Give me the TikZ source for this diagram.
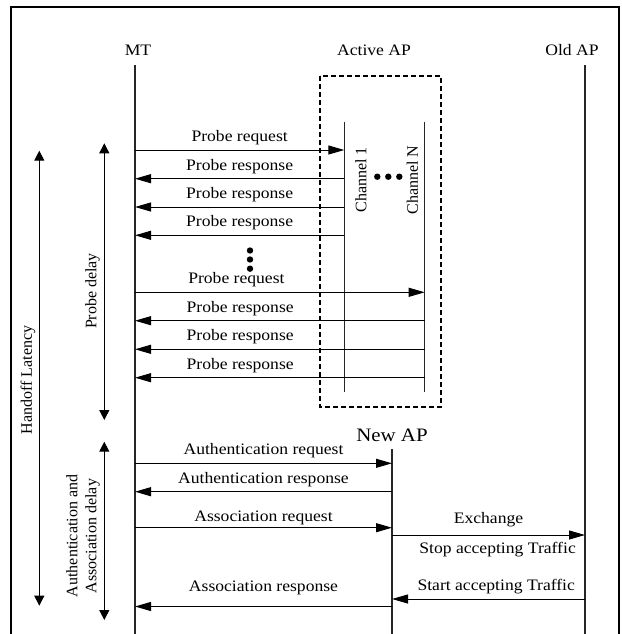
\documentclass[tikz,border=0pt]{standalone}
\usepackage{fontspec}
\setmainfont[FakeStretch=1.1]{Liberation Serif}
\newfontfamily\rotFont{Liberation Serif}
\usetikzlibrary{arrows.meta,positioning}
\tikzset{
  lifeline/.style={
    line width=1.1pt,
    draw=black!85
  },
  message/.style={
    -{Triangle[length=16pt,width=9pt]},
    line width=1pt
  },
  msgLabel/.style={
    font=\fontsize{16}{18}\selectfont,
    inner sep=2pt
  },
  header/.style={
    font=\fontsize{16}{18}\selectfont,
    anchor=base,
    inner sep=0pt
  },
  delayArrow/.style={
    {Triangle[length=10pt,width=10pt]}-{Triangle[length=10pt,width=10pt]},
    line width=1pt
  },
  delayLabel/.style={
    font=\rotFont\fontsize{16}{19}\selectfont,
    rotate=90,
    align=center,
    inner sep=0pt
  },
  channelBox/.style={
    draw,
    line width=1.6pt,
    dash pattern=on 5pt off 3pt
  },
  frameLine/.style={
    line width=2.4pt
  }
}

\begin{document}
\begin{tikzpicture}[x=1pt,y=-1pt]
  \useasboundingbox (0,0) rectangle (621,634);
  \draw[frameLine] (11,660) -- (11,7) -- (619,7) -- (619,660);

  % entities
  \node[header] (mt) at (138,56) {MT};
  \node[header] (activeAP) at (374,56) {Active AP};
  \node[header] (oldAP) at (572,56) {Old AP};
  \node[header,font=\fontsize{19}{21}\selectfont] (newAP) at (392,441.5) {New AP};

  \coordinate (mtTop) at (135,65.5);
  \coordinate (mtBot) at (135,640);
  \coordinate (oldTop) at (585,65.5);
  \coordinate (oldBot) at (585,640);
  \coordinate (newTop) at (392,449.3);
  \coordinate (newBot) at (392,640);
  \coordinate (chOneTop) at (344.3,121.7);
  \coordinate (chOneBot) at (344.3,392.3);
  \coordinate (chNTop) at (424.7,121.7);
  \coordinate (chNBot) at (424.7,392.3);
  \draw[lifeline] (mtTop) -- (mtBot);
  \draw[lifeline] (oldTop) -- (oldBot);
  \draw[lifeline] (newTop) -- (newBot);
  \draw[lifeline] (chOneTop) -- (chOneBot);
  \draw[lifeline] (chNTop) -- (chNBot);

  % active AP channels
  \draw[channelBox] (320,76) rectangle (441,407);
  \node[delayLabel] (chOneLbl) at (361,180) {Channel 1};
  \node[delayLabel] (chNLbl) at (412.5,180) {Channel N};
  \fill (377.3,176.7) circle (3.2pt) (388.3,176.7) circle (3.2pt) (399.3,176.7) circle (3.2pt);

  % probe phase
  \coordinate (mtPrqA) at (135,150);
  \coordinate (mtPrsA) at (135,178.7);
  \coordinate (mtPrsB) at (135,207);
  \coordinate (mtPrsC) at (135,235.3);
  \coordinate (mtPrqN) at (135,292.3);
  \coordinate (mtPrsD) at (135,320.7);
  \coordinate (mtPrsE) at (135,349.3);
  \coordinate (mtPrsF) at (135,377.7);
  \draw[message] (mtPrqA) -- (mtPrqA -| chOneTop) node[msgLabel,midway,above=2.5pt] {Probe request};
  \draw[message] (mtPrsA -| chOneTop) -- (mtPrsA) node[msgLabel,midway,above=2.5pt] {Probe response};
  \draw[message] (mtPrsB -| chOneTop) -- (mtPrsB) node[msgLabel,midway,above=2.5pt] {Probe response};
  \draw[message] (mtPrsC -| chOneTop) -- (mtPrsC) node[msgLabel,midway,above=2.5pt] {Probe response};
  \fill (250,250.5) circle (3.2pt) (250,259.5) circle (3.2pt) (250,268.7) circle (3.2pt);
  \draw[message] (mtPrqN) -- (mtPrqN -| chNTop) node[msgLabel,pos=0.35,above=2.5pt] {Probe request};
  \draw[message] (mtPrsD -| chNTop) -- (mtPrsD) node[msgLabel,pos=0.637,above=2.5pt] {Probe response};
  \draw[message] (mtPrsE -| chNTop) -- (mtPrsE) node[msgLabel,pos=0.637,above=2.5pt] {Probe response};
  \draw[message] (mtPrsF -| chNTop) -- (mtPrsF) node[msgLabel,pos=0.637,above=2.5pt] {Probe response};

  % authentication and association phase
  \coordinate (mtAuq) at (135,463.3);
  \coordinate (mtAus) at (135,491.7);
  \coordinate (mtAsq) at (135,527.7);
  \coordinate (mtAss) at (135,606.5);
  \coordinate (newExch) at (392,535);
  \coordinate (newStart) at (392,599);
  \draw[message] (mtAuq) -- (mtAuq -| newTop) node[msgLabel,midway,above=2.5pt] {Authentication request};
  \draw[message] (mtAus -| newTop) -- (mtAus) node[msgLabel,midway,above=2.5pt] {Authentication response};
  \draw[message] (mtAsq) -- (mtAsq -| newTop) node[msgLabel,midway,above=0pt] {Association request};
  \draw[message] (newExch) -- (newExch -| oldTop)
    node[msgLabel,midway,above=6pt] {Exchange}
    node[msgLabel,pos=0.547,below=5pt] {Stop accepting Traffic};
  \draw[message] (newStart -| oldTop) -- (newStart) node[msgLabel,pos=0.46,above=2.5pt] {Start accepting Traffic};
  \draw[message] (mtAss -| newTop) -- (mtAss) node[msgLabel,midway,above=9pt] {Association response};

  % delays
  \coordinate (probeTop) at (104.3,143.3);
  \coordinate (probeBot) at (104.3,420);
  \coordinate (assocTop) at (104.3,441.7);
  \coordinate (assocBot) at (104.3,620);
  \coordinate (handTop) at (39.3,150.7);
  \coordinate (handBot) at (39.3,605.7);
  \draw[delayArrow] (probeTop) -- (probeBot);
  \draw[delayArrow] (assocTop) -- (assocBot);
  \draw[delayArrow] (handTop) -- (handBot);
  \node[delayLabel] (probeLbl) at (92.5,291) {Probe delay};
  \node[delayLabel] (assocLbl) at (83,536) {Authentication and\\Association delay};
  \node[delayLabel] (handLbl) at (28,380) {Handoff Latency};
\end{tikzpicture}
\end{document}
